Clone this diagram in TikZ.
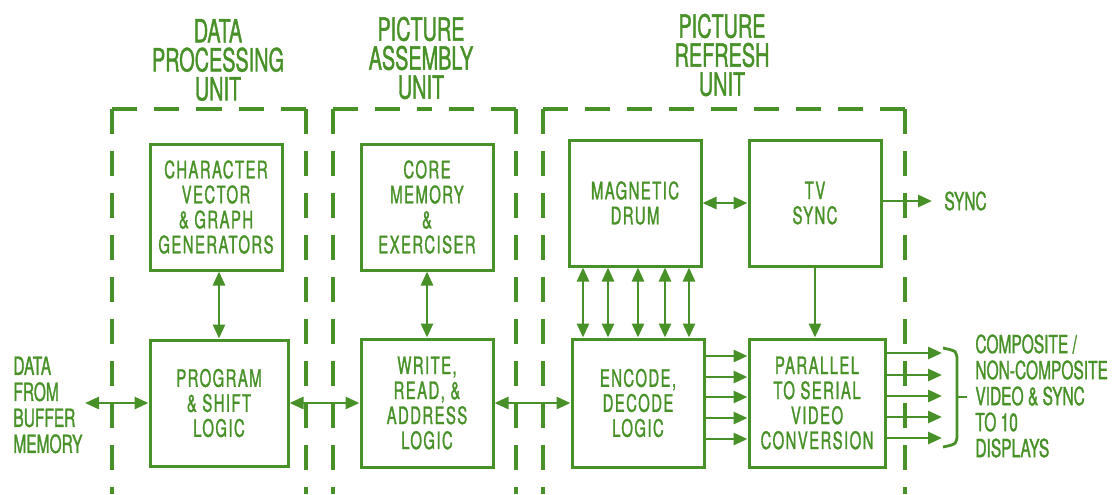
\documentclass[tikz,border=0pt]{standalone}
\usepackage{fontspec}
\setmainfont{TeX Gyre Heros}[FakeStretch=0.62,FakeBold=1.2]
\newfontfamily\boxfont{TeX Gyre Heros}[FakeStretch=0.62,FakeBold=1.2,LetterSpace=6]
\usetikzlibrary{arrows.meta,positioning,calc}
\definecolor{plotgreen}{RGB}{72,145,40}

\begin{document}
\begin{tikzpicture}[x=0.5pt, y=-0.5pt,
    every node/.style={text=plotgreen},
    unitbox/.style={draw=plotgreen, line width=2pt, dash pattern=on 12.5pt off 8.5pt},
    blk/.style={draw=plotgreen, line width=1.5pt, minimum width=66pt, minimum height=63pt,
      inner sep=0pt, align=center, font=\boxfont\fontsize{12}{12.5}\selectfont},
    ttl/.style={align=center, font=\fontsize{16}{14.5}\selectfont},
    lbl/.style={align=left, inner sep=0pt, font=\fontsize{12.5}{13}\selectfont},
    wire/.style={draw=plotgreen, line width=1.4pt},
    arr/.style={wire, -{Triangle[length=7pt,width=6pt]}},
    darr/.style={wire, {Triangle[length=7pt,width=6pt]}-{Triangle[length=7pt,width=6pt]}},
  ]
    \useasboundingbox (0,0) rectangle (1120,494);
    % unit outlines (open at the bottom)
    \foreach \l/\r in {112/306, 333/516, 543/905} {
      \draw[unitbox] (\l,109) -- (\l,494);
      \draw[unitbox] (\l,109) -- ({(\l+\r)/2},109);
      \draw[unitbox] (\r,109) -- ({(\l+\r)/2},109);
      \draw[unitbox] (\r,109) -- (\r,494);
    }
    \node[ttl] (dputitle) at (218,60) {DATA\\PROCESSING\\UNIT};
    \node[ttl] (pautitle) at (421,58) {PICTURE\\ASSEMBLY\\UNIT};
    \node[ttl] (prutitle) at (722,55) {PICTURE\\REFRESH\\UNIT};
    % data processing unit
    \node[blk] (chr) at (216,207) {CHARACTER\\VECTOR\\\& GRAPH\\GENERATORS};
    \node[blk, minimum width=69pt] (prg) at (219,403) {PROGRAM\\\& SHIFT\\LOGIC};
    % picture assembly unit
    \node[blk] (core) at (427,207) {CORE\\MEMORY\\\&\\EXERCISER};
    \node[blk, minimum height=64pt] (wra) at (427,403) {WRITE,\\READ, \&\\ADDRESS\\LOGIC};
    % picture refresh unit
    \node[blk] (drum) at (635,203) {MAGNETIC\\DRUM};
    \node[blk] (tvs) at (815,203) {TV\\SYNC};
    \node[blk, minimum height=64pt] (enc) at (638,403) {ENCODE,\\DECODE\\LOGIC};
    \node[blk, minimum width=68pt, minimum height=64pt] (par) at (817,403) {PARALLEL\\TO SERIAL\\VIDEO\\CONVERSION};
    % outside
    \node[lbl, anchor=west] (buf) at (13,405) {DATA\\FROM\\BUFFER\\MEMORY};
    \coordinate (bufend) at (85,403);
    \coordinate (syncend) at (932,201);
    \node[lbl, anchor=west, right=6pt of syncend] (sync) {SYNC};
    \node[lbl, anchor=west] (disp) at (975,396) {COMPOSITE /\\NON-COMPOSITE\\VIDEO \& SYNC\\TO 10\\DISPLAYS};
    % connections
    \draw[darr] (bufend) -- (prg.west);
    \draw[darr] (chr.south -| prg.north) -- (prg.north);
    \draw[darr] (prg.east) -- (wra.west);
    \draw[darr] (core.south) -- (wra.north);
    \draw[darr] (wra.east) -- (enc.west);
    \draw[darr] (drum.east) -- (tvs.west);
    \draw[arr] (tvs.east |- syncend) -- (syncend);
    \draw[arr] (tvs.south) -- (par.north -| tvs.south);
    \foreach \x in {583,608,638,665,689}
      \draw[darr] (\x,0 |- drum.south) -- (\x,0 |- enc.north);
    \foreach \y in {356,377,397,418,439}
      \draw[arr] (enc.east |- 0,\y) -- (par.west |- 0,\y);
    \foreach \y in {353,375,396,417,438}
      \draw[arr] (par.east |- 0,\y) -- (942,\y);
    % bracket
    \draw[wire] (943,348) .. controls (957,351) .. (957,362) -- (957,433)
      .. controls (957,444) .. (943,447);
    \draw[wire] (957,397) -- (967,397);
\end{tikzpicture}
\end{document}
